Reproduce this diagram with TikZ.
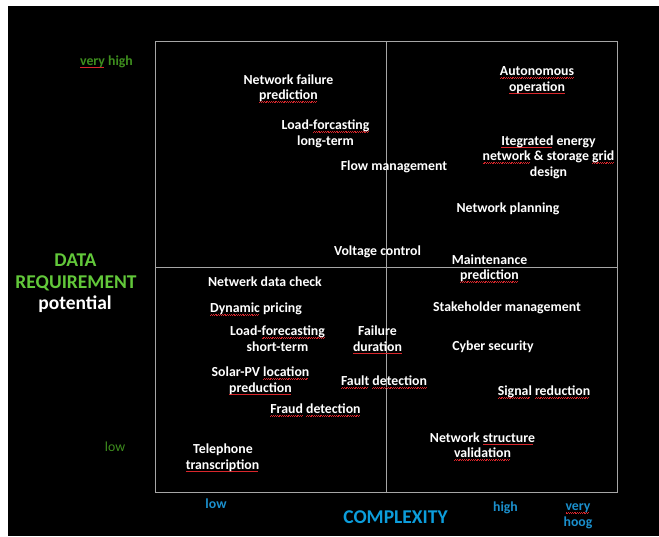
\documentclass[tikz,border=0pt]{standalone}
\usepackage{fontspec}
\setmainfont{Carlito}
\definecolor{framegray}{HTML}{A6A6A6}
\definecolor{darkgreen}{HTML}{3E8E1E}
\definecolor{brightgreen}{HTML}{62C83A}
\definecolor{axisblue}{HTML}{1B8FCC}
\definecolor{cxblue}{HTML}{0C9DDB}
\definecolor{squig}{HTML}{D8262B}
\newsavebox\sqbox
\newcommand\sq[1]{\sbox\sqbox{#1}\rlap{\textcolor{squig}{\leaders\hbox{\rule[-2.9pt]{0.9pt}{0.6pt}\rule[-2.3pt]{0.9pt}{0.6pt}}\hskip\wd\sqbox}}\usebox\sqbox}
\begin{document}
\begin{tikzpicture}[x=1pt,y=-1pt,
  item/.style={text=white, font=\fontsize{13.8}{15.5}\selectfont\bfseries, inner sep=0pt, anchor=base},
  axissmall/.style={font=\fontsize{13.8}{15.5}\selectfont\bfseries, inner sep=0pt, anchor=base},
  axisbig/.style={font=\fontsize{19.5}{22}\selectfont\bfseries, inner sep=0pt, anchor=base},
  divider/.style={draw=framegray, line width=1pt}]
\useasboundingbox (0,0) rectangle (659,536);
\fill[white] (0,0) rectangle (659,536);
\fill[black] (8,6) rectangle (659,536);
% frame
\node[draw=framegray, line width=1.4pt, minimum width=462pt, minimum height=451pt,
      inner sep=0pt, anchor=north west] (frame) at (155,41) {};
\draw[divider] (frame.north) -- (frame.south);
\draw[divider] (frame.west) -- (frame.east);
% items
\node[item] (nf1) at (288.5,84) {Network failure};
\node[item] (nf2) at (288.5,99.5) {\sq{prediction}};
\node[item] (lfl1) at (325.5,129.5) {Load-\sq{forcasting}};
\node[item] (lfl2) at (325.5,145) {long-term};
\node[item] (fm) at (394,170) {Flow management};
\node[item] (ao1) at (537,75.5) {\sq{Autonomous}};
\node[item] (ao2) at (537,91) {\sq{operation}};
\node[item] (ie1) at (548.5,145) {\sq{Itegrated} energy};
\node[item] (ie2) at (548.5,160.5) {\sq{network} \& storage \sq{grid}};
\node[item] (ie3) at (548.5,176) {design};
\node[item] (np) at (508,212.5) {Network planning};
\node[item] (vc) at (377.5,255.5) {Voltage control};
\node[item] (mp1) at (489.5,264) {Maintenance};
\node[item] (mp2) at (489.5,279.5) {\sq{prediction}};
\node[item] (ndc) at (265,286.5) {Netwerk data check};
\node[item] (dp) at (256,312.5) {\sq{Dynamic} pricing};
\node[item] (lfs1) at (277.5,335.5) {Load-\sq{forecasting}};
\node[item] (lfs2) at (277.5,351) {short-term};
\node[item] (fd1) at (377.5,335.5) {Failure};
\node[item] (fd2) at (377.5,351) {\sq{duration}};
\node[item] (sm) at (507,311) {Stakeholder management};
\node[item] (cs) at (493,350.5) {Cyber security};
\node[item] (sp1) at (260.5,376.5) {Solar-PV \sq{location}};
\node[item] (sp2) at (260.5,392) {\sq{preduction}};
\node[item] (ftd) at (384,385.5) {\sq{Fault} \sq{detection}};
\node[item] (sr) at (544,395.5) {\sq{Signal} \sq{reduction}};
\node[item] (frd) at (315.5,413.5) {\sq{Fraud} \sq{detection}};
\node[item] (ns1) at (482.5,442) {Network \sq{structure}};
\node[item] (ns2) at (482.5,457.5) {\sq{validation}};
\node[item] (tt1) at (223,453.5) {Telephone};
\node[item] (tt2) at (222.5,469) {\sq{transcription}};
% vertical axis labels
\node[axissmall, text=darkgreen] (vhigh) at (106.5,65) {\sq{very} high};
\node[axissmall, text=darkgreen, font=\fontsize{13.8}{15.5}\selectfont] (vlow) at (115,451) {low};
\node[axisbig, text=brightgreen] (data) at (75.5,266.5) {DATA};
\node[axisbig, text=brightgreen] (req) at (76,288.5) {REQUIREMENT};
\node[axisbig, text=white] (pot) at (75,309.5) {potential};
% horizontal axis labels
\node[axissmall, text=axisblue] (hlow) at (216,508) {low};
\node[axisbig, text=cxblue] (cx) at (395.5,523) {COMPLEXITY};
\node[axissmall, text=axisblue] (hhigh) at (505.5,511) {high};
\node[axissmall, text=axisblue] (hvery) at (578,510.5) {\sq{very}};
\node[axissmall, text=axisblue] (hhoog) at (578,526) {hoog};
\end{tikzpicture}
\end{document}
